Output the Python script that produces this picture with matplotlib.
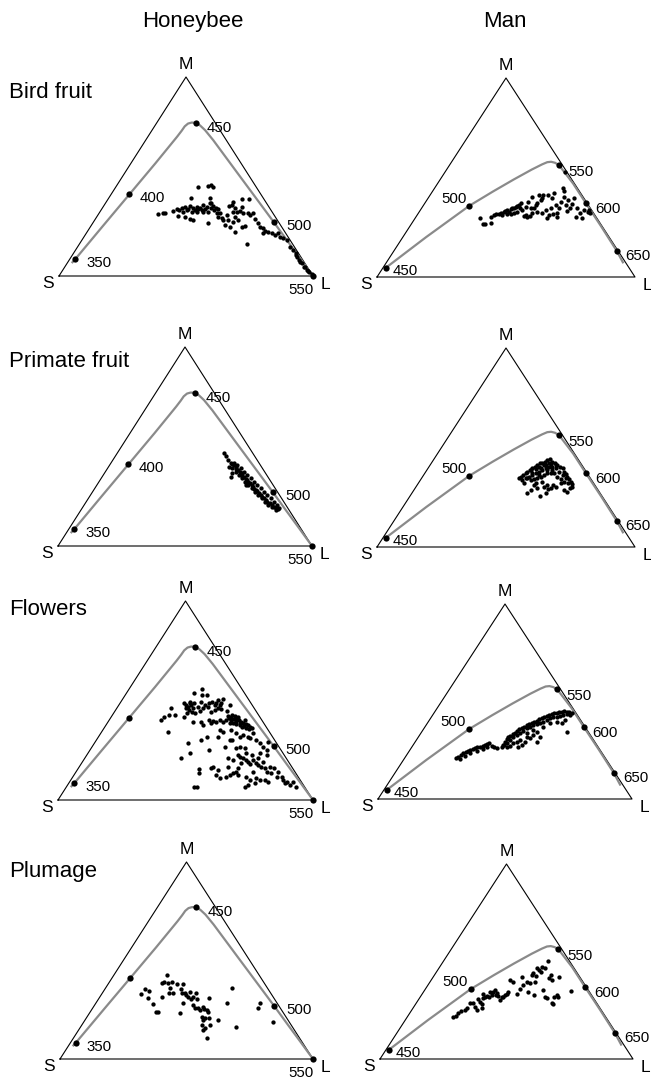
import matplotlib
matplotlib.use('Agg')
import matplotlib.pyplot as plt
import numpy as np

plt.rcParams['font.family'] = ['Liberation Sans', 'DejaVu Sans']

W, H = 651, 1078

species = ['Honeybee', 'Man']
classes = ['Bird fruit', 'Primate fruit', 'Flowers', 'Plumage']

# Maxwell triangle coords: x runs S(0) -> L(1) along the base, y is the M height (apex = 1)
bee_locus_x = [0.050, 0.063, 0.170, 0.277, 0.380, 0.465, 0.483, 0.495, 0.508, 0.522, 0.539,
               0.555, 0.575, 0.607, 0.700, 0.780, 0.846, 0.900, 0.950, 0.980, 1.000]
bee_locus_y = [0.065, 0.083, 0.247, 0.410, 0.567, 0.700, 0.730, 0.752, 0.766, 0.771, 0.770,
               0.757, 0.733, 0.683, 0.522, 0.384, 0.270, 0.175, 0.088, 0.035, 0.000]
bee_nm = [350, 400, 450, 500, 550]
bee_nm_x = [0.063, 0.277, 0.539, 0.846, 1.000]
bee_nm_y = [0.083, 0.410, 0.770, 0.270, 0.000]

man_locus_x = [0.030, 0.035, 0.190, 0.358, 0.450, 0.530, 0.600, 0.640, 0.660, 0.675, 0.690,
               0.705, 0.760, 0.810, 0.870, 0.929, 0.955]
man_locus_y = [0.040, 0.047, 0.200, 0.358, 0.430, 0.490, 0.540, 0.566, 0.577, 0.579, 0.574,
               0.563, 0.470, 0.370, 0.252, 0.132, 0.069]
man_nm = [450, 500, 550, 600, 650]
man_nm_x = [0.035, 0.358, 0.705, 0.810, 0.929]
man_nm_y = [0.047, 0.358, 0.563, 0.370, 0.132]

bird_bee = [(0.391,0.310),(0.408,0.315),(0.417,0.318),(0.448,0.327),(0.463,0.337),(0.474,0.332),
    (0.483,0.340),(0.489,0.323),(0.496,0.345),(0.503,0.332),(0.509,0.335),(0.516,0.352),(0.522,0.323),
    (0.529,0.340),(0.535,0.332),(0.542,0.348),(0.548,0.335),(0.555,0.343),(0.562,0.332),(0.568,0.357),
    (0.575,0.337),(0.581,0.345),(0.588,0.323),(0.594,0.365),(0.598,0.340),(0.605,0.352),(0.610,0.332),
    (0.617,0.343),(0.627,0.335),(0.634,0.315),(0.641,0.290),(0.647,0.281),(0.654,0.256),(0.660,0.307),
    (0.671,0.352),(0.680,0.357),(0.686,0.323),(0.693,0.340),(0.702,0.323),(0.713,0.328),(0.719,0.348),
    (0.546,0.446),(0.588,0.452),(0.598,0.457),(0.607,0.449),(0.520,0.390),(0.594,0.390),(0.598,0.365),
    (0.686,0.373),(0.722,0.385),(0.748,0.387),(0.726,0.315),(0.745,0.318),(0.752,0.307),(0.765,0.315),
    (0.772,0.285),(0.785,0.265),(0.791,0.248),(0.804,0.240),(0.811,0.228),(0.824,0.223),(0.850,0.206),
    (0.864,0.218),(0.870,0.198),(0.881,0.189),(0.897,0.181),(0.909,0.147),(0.922,0.131),(0.933,0.114),
    (0.938,0.094),(0.946,0.080),(0.955,0.064),(0.965,0.047),(0.975,0.030),(0.986,0.022),(0.995,0.010),
    (0.588,0.265),(0.693,0.223),(0.719,0.248),(0.732,0.251),(0.741,0.161),(0.673,0.248),(0.684,0.273),
    (0.667,0.281),(0.496,0.298),(0.516,0.285),(0.526,0.281),(0.470,0.302),(0.706,0.281),(0.693,0.298),
    (0.568,0.323),(0.542,0.323),(0.621,0.315),(0.627,0.298),(0.804,0.215),(0.838,0.215),(0.935,0.106),
    (0.949,0.072),(0.969,0.044),(0.982,0.027)]

bird_man = [(0.401,0.295),(0.411,0.266),(0.420,0.266),(0.442,0.270),(0.442,0.303),(0.453,0.312),
    (0.463,0.315),(0.472,0.317),(0.481,0.322),(0.491,0.328),(0.498,0.332),(0.505,0.337),(0.511,0.328),
    (0.518,0.342),(0.524,0.345),(0.530,0.348),(0.537,0.353),(0.543,0.358),(0.550,0.362),(0.556,0.348),
    (0.563,0.337),(0.569,0.308),(0.576,0.312),(0.583,0.303),(0.593,0.307),(0.602,0.320),(0.608,0.345),
    (0.615,0.362),(0.621,0.370),(0.628,0.412),(0.634,0.387),(0.641,0.395),(0.645,0.412),(0.654,0.337),
    (0.658,0.295),(0.667,0.312),(0.673,0.345),(0.684,0.315),(0.693,0.362),(0.699,0.303),(0.706,0.345),
    (0.712,0.378),(0.719,0.446),(0.723,0.432),(0.725,0.404),(0.732,0.362),(0.738,0.332),(0.748,0.345),
    (0.754,0.365),(0.764,0.395),(0.770,0.303),(0.777,0.345),(0.787,0.320),(0.796,0.295),(0.803,0.337),
    (0.816,0.328),(0.822,0.337),(0.826,0.320),(0.663,0.412),(0.621,0.328),(0.641,0.320),(0.595,0.345),
    (0.543,0.328),(0.530,0.320),(0.518,0.315),(0.485,0.312),(0.505,0.315),(0.559,0.370),(0.576,0.353),
    (0.585,0.378),(0.599,0.400),(0.680,0.395),(0.686,0.420),(0.697,0.320),(0.742,0.387),(0.729,0.526)]

primate_bee = [(0.654,0.469),(0.660,0.452),(0.671,0.432),(0.680,0.419),(0.686,0.412),(0.693,0.405),
    (0.699,0.399),(0.702,0.389),(0.710,0.382),(0.715,0.374),(0.723,0.365),(0.726,0.352),(0.734,0.345),
    (0.739,0.338),(0.745,0.332),(0.749,0.322),(0.755,0.315),(0.762,0.308),(0.768,0.298),(0.772,0.288),
    (0.778,0.281),(0.785,0.275),(0.791,0.265),(0.798,0.258),(0.804,0.248),(0.811,0.241),(0.818,0.231),
    (0.824,0.223),(0.833,0.214),(0.841,0.204),(0.850,0.198),(0.860,0.191),(0.867,0.184),
    (0.693,0.419),(0.706,0.407),(0.719,0.390),(0.732,0.374),(0.745,0.357),(0.759,0.340),(0.772,0.323),
    (0.785,0.307),(0.798,0.290),(0.811,0.273),(0.824,0.256),(0.837,0.240),(0.850,0.223),(0.864,0.206),
    (0.686,0.390),(0.699,0.374),(0.713,0.357),(0.723,0.340),(0.736,0.323),(0.749,0.307),(0.762,0.290),
    (0.776,0.273),(0.789,0.256),(0.802,0.240),(0.815,0.223),(0.828,0.206),(0.841,0.194),
    (0.680,0.348),(0.739,0.307),(0.686,0.365),(0.673,0.399),(0.857,0.181),(0.870,0.189)]

primate_man = [(0.550,0.345),(0.559,0.353),(0.567,0.362),(0.576,0.370),(0.582,0.379),(0.593,0.387),
    (0.602,0.395),(0.611,0.404),(0.621,0.412),(0.632,0.420),(0.641,0.424),(0.650,0.429),(0.660,0.437),
    (0.671,0.441),(0.680,0.429),(0.689,0.420),(0.699,0.412),(0.709,0.404),(0.719,0.395),(0.725,0.379),
    (0.732,0.367),(0.738,0.353),(0.744,0.340),(0.751,0.328),(0.757,0.317),
    (0.563,0.337),(0.576,0.345),(0.589,0.353),(0.602,0.362),(0.615,0.370),(0.628,0.379),(0.641,0.387),
    (0.654,0.395),(0.667,0.404),(0.680,0.404),(0.693,0.395),(0.706,0.379),(0.719,0.362),(0.732,0.345),
    (0.741,0.323),(0.582,0.345),(0.595,0.337),(0.608,0.340),(0.621,0.345),(0.634,0.353),(0.647,0.362),
    (0.660,0.370),(0.673,0.374),(0.686,0.370),(0.699,0.353),(0.712,0.340),(0.725,0.328),
    (0.595,0.387),(0.615,0.390),(0.634,0.395),(0.654,0.412),(0.673,0.417),(0.693,0.412),(0.628,0.404),
    (0.647,0.412),(0.667,0.424),(0.602,0.374),(0.628,0.362),(0.660,0.387),(0.680,0.387),
    (0.582,0.273),(0.595,0.286),(0.608,0.312),(0.621,0.295),(0.632,0.256),(0.641,0.328),(0.654,0.270),
    (0.663,0.290),(0.673,0.295),(0.684,0.312),(0.693,0.303),(0.712,0.320),(0.725,0.286),(0.738,0.278),
    (0.748,0.295),(0.757,0.303),(0.660,0.312),(0.647,0.303),(0.615,0.320),(0.569,0.320)]

flowers_bee = [(0.496,0.486),(0.503,0.477),(0.509,0.469),(0.516,0.489),(0.522,0.477),(0.529,0.461),
    (0.500,0.461),(0.513,0.452),(0.526,0.444),(0.505,0.436),(0.518,0.494),(0.535,0.486),(0.493,0.419),
    (0.539,0.436),(0.535,0.536),(0.564,0.556),(0.566,0.528),(0.584,0.528),(0.562,0.494),(0.575,0.477),
    (0.588,0.469),(0.594,0.486),(0.605,0.494),(0.614,0.477),(0.621,0.486),(0.627,0.503),(0.634,0.477),
    (0.640,0.486),(0.647,0.506),(0.614,0.452),(0.601,0.444),(0.555,0.449),(0.549,0.469),(0.568,0.461),
    (0.627,0.461),(0.638,0.456),(0.404,0.402),(0.417,0.415),(0.437,0.427),(0.444,0.461),(0.457,0.427),
    (0.430,0.343),(0.483,0.209),(0.509,0.285),(0.516,0.238),(0.529,0.394),(0.562,0.394),(0.568,0.377),
    (0.562,0.302),(0.584,0.318),(0.594,0.251),(0.660,0.402),(0.671,0.410),(0.680,0.415),(0.689,0.405),
    (0.697,0.399),(0.702,0.410),(0.710,0.402),(0.719,0.394),(0.726,0.385),(0.732,0.402),(0.739,0.382),
    (0.745,0.377),(0.752,0.369),(0.759,0.360),(0.673,0.389),(0.686,0.385),(0.699,0.382),(0.713,0.377),
    (0.723,0.365),(0.736,0.360),(0.667,0.422),(0.693,0.422),(0.706,0.419),(0.680,0.402),(0.715,0.389),
    (0.728,0.372),(0.749,0.355),(0.634,0.402),(0.621,0.394),(0.608,0.397),(0.594,0.402),(0.647,0.394),
    (0.601,0.385),(0.634,0.352),(0.647,0.343),(0.673,0.302),(0.684,0.302),(0.699,0.335),(0.713,0.318),
    (0.726,0.327),(0.745,0.318),(0.752,0.310),(0.765,0.335),(0.778,0.302),(0.791,0.285),(0.804,0.268),
    (0.818,0.251),(0.824,0.293),(0.680,0.352),(0.627,0.318),(0.654,0.268),(0.663,0.447),(0.673,0.477),
    (0.684,0.427),(0.699,0.260),(0.706,0.226),(0.713,0.218),(0.726,0.209),(0.736,0.201),(0.745,0.193),
    (0.752,0.181),(0.765,0.201),(0.776,0.188),(0.785,0.176),(0.795,0.168),(0.804,0.193),(0.811,0.159),
    (0.820,0.142),(0.831,0.168),(0.837,0.134),(0.846,0.159),(0.857,0.117),(0.864,0.142),(0.877,0.117),
    (0.883,0.101),(0.890,0.084),(0.899,0.092),(0.909,0.075),(0.923,0.092),(0.933,0.067),(0.818,0.226),
    (0.791,0.235),(0.785,0.209),(0.759,0.226),(0.739,0.235),(0.719,0.184),(0.706,0.159),(0.765,0.142),
    (0.778,0.109),(0.791,0.101),(0.811,0.101),(0.824,0.092),(0.739,0.117),(0.752,0.101),(0.732,0.067),
    (0.745,0.075),(0.772,0.084),(0.608,0.168),(0.621,0.126),(0.627,0.151),(0.634,0.109),(0.667,0.168),
    (0.673,0.126),(0.660,0.117),(0.686,0.134),(0.699,0.142),(0.706,0.126),(0.552,0.154),(0.552,0.134),
    (0.535,0.067),(0.545,0.067),(0.601,0.159),(0.667,0.209),(0.686,0.201),(0.713,0.268),(0.732,0.260)]

flowers_man = [(0.307,0.209),(0.316,0.217),(0.325,0.226),(0.336,0.234),(0.346,0.243),(0.356,0.248),
    (0.362,0.251),(0.373,0.255),(0.382,0.260),(0.391,0.265),(0.402,0.268),(0.412,0.272),(0.421,0.277),
    (0.430,0.282),(0.438,0.285),(0.448,0.272),(0.457,0.265),(0.467,0.260),(0.428,0.265),(0.415,0.255),
    (0.388,0.248),(0.362,0.234),(0.343,0.221),(0.323,0.207),(0.493,0.277),(0.500,0.294),(0.507,0.306),
    (0.513,0.316),(0.520,0.323),(0.530,0.333),(0.539,0.340),(0.546,0.350),(0.556,0.357),(0.566,0.362),
    (0.575,0.371),(0.585,0.379),(0.596,0.385),(0.605,0.391),(0.614,0.397),(0.625,0.402),(0.635,0.409),
    (0.644,0.414),(0.654,0.419),(0.664,0.426),(0.675,0.431),(0.684,0.436),(0.693,0.439),(0.703,0.443),
    (0.714,0.446),(0.723,0.448),(0.732,0.450),(0.743,0.448),(0.753,0.444),(0.762,0.439),
    (0.487,0.265),(0.496,0.277),(0.509,0.289),(0.520,0.303),(0.533,0.316),(0.546,0.328),(0.559,0.337),
    (0.572,0.350),(0.585,0.362),(0.598,0.371),(0.612,0.379),(0.625,0.385),(0.638,0.391),(0.651,0.397),
    (0.664,0.405),(0.677,0.414),(0.690,0.419),(0.703,0.422),(0.717,0.426),(0.730,0.431),(0.743,0.434),
    (0.756,0.431),(0.507,0.265),(0.520,0.272),(0.533,0.285),(0.546,0.294),(0.559,0.303),(0.585,0.320),
    (0.598,0.311),(0.612,0.328),(0.625,0.294),(0.638,0.316),(0.579,0.294),(0.552,0.268),(0.566,0.277),
    (0.651,0.371),(0.677,0.388),(0.703,0.397),(0.736,0.405),(0.743,0.345),(0.723,0.388),(0.612,0.354),
    (0.585,0.337),(0.625,0.345)]

plumage_bee = [(0.319,0.328),(0.336,0.354),(0.352,0.347),(0.349,0.308),(0.369,0.279),(0.379,0.239),
    (0.386,0.239),(0.404,0.313),(0.412,0.393),(0.422,0.426),(0.428,0.384),(0.432,0.333),(0.441,0.393),
    (0.448,0.337),(0.461,0.381),(0.474,0.235),(0.478,0.354),(0.481,0.333),(0.487,0.381),(0.494,0.337),
    (0.498,0.325),(0.507,0.316),(0.516,0.303),(0.527,0.274),(0.534,0.257),(0.538,0.333),(0.540,0.303),
    (0.547,0.257),(0.553,0.249),(0.560,0.215),(0.567,0.266),(0.569,0.252),(0.573,0.206),(0.580,0.249),
    (0.586,0.240),(0.589,0.308),(0.590,0.206),(0.593,0.173),(0.560,0.173),(0.567,0.147),(0.573,0.156),
    (0.582,0.105),(0.564,0.198),(0.527,0.316),(0.485,0.283),(0.435,0.359),(0.626,0.198),(0.659,0.283),
    (0.679,0.359),(0.696,0.161),(0.784,0.257),(0.791,0.286),(0.841,0.190),(0.514,0.342),(0.402,0.387)]

plumage_man = [(0.290,0.214),(0.300,0.221),(0.310,0.234),(0.320,0.248),(0.336,0.251),(0.343,0.260),
    (0.356,0.285),(0.369,0.289),(0.375,0.268),(0.382,0.251),(0.389,0.306),(0.395,0.294),(0.402,0.282),
    (0.408,0.311),(0.415,0.320),(0.422,0.323),(0.432,0.316),(0.441,0.328),(0.448,0.345),(0.455,0.354),
    (0.461,0.337),(0.468,0.323),(0.474,0.303),(0.481,0.316),(0.487,0.320),(0.494,0.328),(0.501,0.333),
    (0.507,0.345),(0.514,0.405),(0.527,0.397),(0.540,0.333),(0.553,0.357),(0.560,0.422),(0.567,0.379),
    (0.580,0.397),(0.586,0.345),(0.593,0.388),(0.599,0.431),(0.606,0.439),(0.613,0.397),(0.617,0.426),
    (0.622,0.465),(0.630,0.456),(0.635,0.448),(0.639,0.474),(0.646,0.354),(0.652,0.320),(0.659,0.311),
    (0.665,0.504),(0.669,0.414),(0.675,0.431),(0.679,0.405),(0.679,0.289),(0.682,0.282),(0.688,0.316),
    (0.698,0.328),(0.705,0.320),(0.709,0.422),(0.754,0.350),(0.609,0.328),(0.652,0.465),(0.435,0.345),
    (0.457,0.328),(0.402,0.260),(0.408,0.333)]

points = {('Honeybee', 'Bird fruit'): bird_bee, ('Man', 'Bird fruit'): bird_man,
          ('Honeybee', 'Primate fruit'): primate_bee, ('Man', 'Primate fruit'): primate_man,
          ('Honeybee', 'Flowers'): flowers_bee, ('Man', 'Flowers'): flowers_man,
          ('Honeybee', 'Plumage'): plumage_bee, ('Man', 'Plumage'): plumage_man}

# triangle boxes in pixels: S x, L x, base y, apex y
boxes = {'Honeybee': [(59, 313, 276, 77), (58, 312, 546, 347), (58, 313, 800, 601), (60, 313, 1059, 862)],
         'Man': [(377, 635, 277, 78), (377, 635, 547, 348), (378, 632, 799, 604), (380, 633, 1059, 864)]}

# label offsets in pixels (dx, dy, ha)
bee_off = {350: (11, -8, 'left'), 400: (10, -8, 'left'), 450: (11, -9, 'left'),
           500: (12, -8, 'left'), 550: (-12, -18, 'center')}
man_off = {450: (7, -7, 'left'), 500: (-3, 3, 'right'), 550: (9, -11, 'left'),
           600: (9, -10, 'left'), 650: (9, -9, 'left')}

gray = '#8a8a8a'

fig = plt.figure(figsize=(W / 100, H / 100), dpi=100)

for sp in species:
    if sp == 'Honeybee':
        lx, ly, nm, nx, ny, off = bee_locus_x, bee_locus_y, bee_nm, bee_nm_x, bee_nm_y, bee_off
    else:
        lx, ly, nm, nx, ny, off = man_locus_x, man_locus_y, man_nm, man_nm_x, man_nm_y, man_off
    for i, cl in enumerate(classes):
        x0, x1, base, apex = boxes[sp][i]
        ax = fig.add_axes([x0 / W, 1 - base / H, (x1 - x0) / W, (base - apex) / H])
        ax.set_xlim(0, 1)
        ax.set_ylim(0, 1)
        ax.axis('off')
        ax.plot([0, 1, 0.5, 0], [0, 0, 1, 0], color='black', lw=0.8, clip_on=False)
        ax.plot(lx, ly, color=gray, lw=1.6, clip_on=False, solid_capstyle='butt')
        p = np.array(points[(sp, cl)])
        ax.plot(p[:, 0], p[:, 1], 'o', color='black', ms=3.1, mew=0, clip_on=False)
        ax.plot(nx, ny, 'o', color='black', ms=4.5, mew=0, clip_on=False)
        for w, x, y in zip(nm, nx, ny):
            if sp == 'Honeybee' and w == 400 and cl in ('Flowers', 'Plumage'):
                continue
            dx, dy, ha = off[w]
            ax.annotate(str(w), (x, y), xytext=(dx, dy), textcoords='offset pixels',
                        ha=ha, va='baseline', fontsize=10.8, annotation_clip=False)
        ax.annotate('M', (0.5, 1), xytext=(0, 8), textcoords='offset pixels',
                    ha='center', va='baseline', fontsize=12.5, annotation_clip=False)
        ax.annotate('S', (0, 0), xytext=(-11, -12), textcoords='offset pixels',
                    ha='center', va='baseline', fontsize=12.5, annotation_clip=False)
        ax.annotate('L', (1, 0), xytext=(12, -13), textcoords='offset pixels',
                    ha='center', va='baseline', fontsize=12.5, annotation_clip=False)

fig.text(193 / W, 1 - 26.7 / H, 'Honeybee', ha='center', va='baseline', fontsize=16)
fig.text(505 / W, 1 - 26.7 / H, 'Man', ha='center', va='baseline', fontsize=16)
for cl, yb in zip(classes, [98.3, 367.3, 615, 876.7]):
    fig.text(9 / W, 1 - yb / H, cl, ha='left', va='baseline', fontsize=16)

fig.savefig('out.png', dpi=100)
